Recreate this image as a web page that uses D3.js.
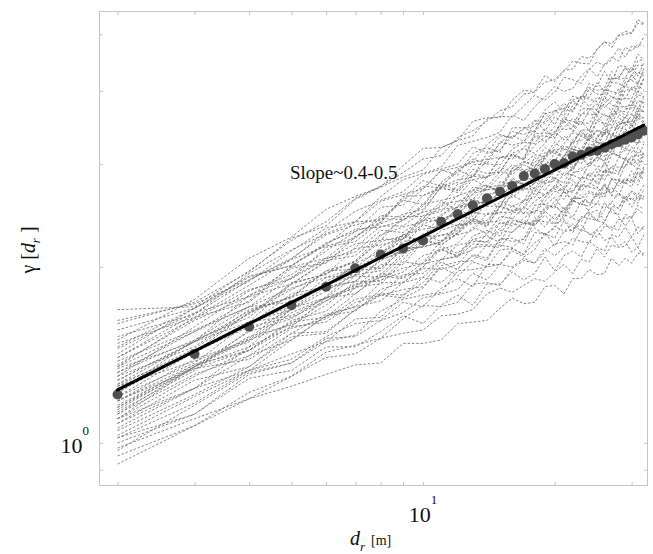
<!DOCTYPE html>
<html>
<head>
<meta charset="utf-8">
<script src="https://cdn.jsdelivr.net/npm/d3@7"></script>
<style>
  body { margin: 0; background: #fff; }
  svg { display: block; }
  text { font-family: "Liberation Serif", "Times New Roman", serif; fill: #111; }
</style>
</head>
<body>
<svg id="chart" width="653" height="554"></svg>
<script>
// Lag distances (m) at which every variogram is evaluated
const lags = [2,3,4,5,6,7,8,9,10,11,12,13,14,15,16,17,18,19,20,21,22,23,24,25,26,27,28,29,30,31,32];

// Mean variogram over all runs
const meanGamma = [1.21,1.42,1.58,1.72,1.85,1.99,2.10,2.15,2.22,2.39,2.46,2.55,2.62,2.69,2.75,2.86,2.89,2.94,3.00,3.01,3.09,3.11,3.15,3.16,3.20,3.24,3.27,3.30,3.33,3.37,3.42];

// Power-law fit, end points (lag, gamma)
const fitLags = [2, 32];
const fitGamma = [1.232, 3.497];

// Individual variograms (one row per run, values at `lags`)
const runs = [
  [1.69,1.71,1.97,2.22,2.39,2.62,2.75,2.90,3.06,3.10,3.33,3.42,3.55,3.70,3.76,3.95,3.98,4.14,4.18,4.34,4.36,4.58,4.55,4.70,4.85,4.82,4.98,5.06,5.02,5.22,5.20],
  [1.50,1.76,2.07,2.25,2.51,2.64,2.74,2.98,3.19,3.20,3.29,3.55,3.60,3.60,3.86,4.01,3.99,4.25,4.15,4.32,4.50,4.46,4.45,4.72,4.86,4.74,4.97,5.00,5.02,5.30,5.22],
  [1.60,1.74,1.96,2.24,2.35,2.61,2.74,2.85,2.93,3.20,3.29,3.35,3.58,3.62,3.61,3.77,3.93,3.86,3.98,4.22,4.18,4.12,4.36,4.48,4.42,4.53,4.74,4.57,4.77,4.74,4.95],
  [1.40,1.66,1.95,2.14,2.28,2.39,2.64,2.82,2.89,2.96,3.23,3.28,3.33,3.40,3.64,3.56,3.76,3.90,4.07,3.99,4.04,4.24,4.37,4.23,4.44,4.57,4.50,4.75,4.68,4.81,4.77],
  [1.62,1.73,1.90,2.06,2.30,2.49,2.60,2.69,2.88,2.94,3.00,3.21,3.14,3.35,3.33,3.46,3.40,3.56,3.70,3.73,3.68,3.92,3.87,3.84,4.02,3.99,3.96,4.21,4.18,4.31,4.24],
  [1.46,1.70,1.89,2.13,2.33,2.39,2.59,2.66,2.72,2.92,2.96,3.03,3.24,3.37,3.32,3.44,3.56,3.52,3.67,3.81,3.70,3.92,3.90,4.13,3.99,4.21,4.19,4.21,4.40,4.24,4.47],
  [1.30,1.58,1.82,1.94,2.13,2.30,2.38,2.64,2.65,2.74,2.94,3.02,3.06,3.25,3.41,3.37,3.42,3.65,3.70,3.63,3.86,3.90,4.06,4.01,4.04,4.32,4.22,4.37,4.31,4.50,4.53],
  [1.52,1.66,1.90,2.07,2.27,2.36,2.42,2.60,2.75,2.73,2.79,2.99,3.00,2.99,3.18,3.27,3.25,3.44,3.33,3.46,3.59,3.53,3.52,3.72,3.80,3.70,3.87,3.88,3.88,4.09,4.01],
  [1.36,1.62,1.78,2.00,2.07,2.26,2.37,2.46,2.51,2.74,2.82,2.85,3.05,3.08,3.06,3.20,3.34,3.28,3.39,3.58,3.55,3.50,3.71,3.80,3.75,3.85,4.03,3.88,4.06,4.03,4.20],
  [1.20,1.43,1.67,1.83,1.95,2.05,2.26,2.41,2.48,2.53,2.77,2.82,2.85,2.91,3.12,3.05,3.23,3.33,3.48,3.43,3.46,3.64,3.74,3.63,3.81,3.91,3.85,4.08,4.02,4.12,4.10],
  [1.56,1.70,1.92,2.01,2.19,2.32,2.34,2.40,2.56,2.60,2.64,2.82,2.74,2.91,2.88,2.99,2.93,3.07,3.17,3.19,3.14,3.35,3.29,3.26,3.40,3.38,3.34,3.55,3.51,3.62,3.54],
  [1.28,1.49,1.66,1.87,2.05,2.09,2.27,2.34,2.39,2.56,2.59,2.66,2.85,2.96,2.91,3.01,3.11,3.09,3.22,3.35,3.24,3.43,3.43,3.62,3.50,3.69,3.68,3.69,3.86,3.72,3.92],
  [1.40,1.63,1.83,1.91,2.06,2.19,2.22,2.44,2.44,2.49,2.65,2.70,2.71,2.86,2.99,2.93,2.96,3.14,3.16,3.09,3.27,3.29,3.41,3.36,3.37,3.58,3.49,3.61,3.54,3.69,3.69],
  [1.13,1.33,1.56,1.69,1.89,1.99,2.07,2.24,2.40,2.41,2.48,2.67,2.71,2.72,2.91,3.02,3.01,3.20,3.12,3.25,3.39,3.36,3.36,3.56,3.65,3.58,3.75,3.76,3.78,4.00,3.93],
  [1.22,1.44,1.59,1.80,1.85,2.03,2.12,2.21,2.25,2.46,2.53,2.55,2.74,2.76,2.74,2.87,3.00,2.94,3.03,3.22,3.18,3.14,3.33,3.42,3.37,3.46,3.62,3.49,3.64,3.61,3.77],
  [1.32,1.50,1.71,1.84,1.92,1.99,2.16,2.27,2.32,2.35,2.54,2.57,2.58,2.62,2.78,2.71,2.85,2.93,3.05,2.98,3.00,3.13,3.21,3.09,3.24,3.31,3.25,3.44,3.38,3.45,3.41],
  [1.45,1.67,1.78,1.87,2.04,2.15,2.18,2.23,2.37,2.42,2.46,2.62,2.55,2.70,2.68,2.79,2.72,2.85,2.95,2.97,2.92,3.11,3.06,3.03,3.16,3.14,3.10,3.29,3.27,3.37,3.30],
  [1.16,1.35,1.50,1.69,1.85,1.89,2.06,2.12,2.17,2.31,2.36,2.40,2.58,2.68,2.63,2.73,2.82,2.79,2.91,3.03,2.94,3.11,3.10,3.29,3.18,3.36,3.33,3.35,3.50,3.37,3.56],
  [1.24,1.44,1.61,1.69,1.82,1.94,1.97,2.16,2.16,2.21,2.34,2.39,2.40,2.54,2.65,2.59,2.63,2.78,2.81,2.74,2.90,2.92,3.02,2.97,2.98,3.17,3.09,3.19,3.14,3.27,3.27],
  [1.06,1.24,1.46,1.58,1.77,1.86,1.94,2.11,2.26,2.26,2.32,2.51,2.54,2.54,2.73,2.84,2.82,3.01,2.93,3.05,3.18,3.15,3.14,3.33,3.43,3.35,3.51,3.53,3.54,3.75,3.69],
  [1.10,1.30,1.44,1.62,1.68,1.84,1.92,1.99,2.03,2.22,2.27,2.31,2.47,2.48,2.48,2.59,2.70,2.66,2.73,2.90,2.87,2.83,3.00,3.08,3.04,3.12,3.25,3.15,3.28,3.26,3.40],
  [1.34,1.49,1.68,1.78,1.84,1.89,2.05,2.14,2.17,2.20,2.36,2.37,2.38,2.40,2.55,2.47,2.59,2.66,2.75,2.68,2.70,2.82,2.88,2.77,2.89,2.96,2.90,3.05,2.99,3.05,3.02],
  [1.18,1.39,1.50,1.60,1.75,1.87,1.90,1.96,2.09,2.14,2.19,2.34,2.28,2.44,2.42,2.53,2.47,2.59,2.69,2.72,2.68,2.85,2.82,2.80,2.93,2.90,2.88,3.07,3.04,3.14,3.08],
  [1.03,1.20,1.33,1.50,1.65,1.68,1.83,1.88,1.92,2.06,2.09,2.14,2.28,2.38,2.35,2.42,2.50,2.48,2.59,2.69,2.61,2.77,2.75,2.91,2.81,2.98,2.96,2.97,3.10,2.99,3.15],
  [1.26,1.43,1.58,1.64,1.75,1.85,1.87,2.04,2.02,2.06,2.18,2.21,2.21,2.33,2.42,2.37,2.39,2.53,2.54,2.47,2.62,2.62,2.70,2.66,2.67,2.83,2.75,2.84,2.78,2.90,2.89],
  [1.10,1.24,1.41,1.50,1.65,1.71,1.75,1.88,1.99,1.98,2.02,2.16,2.17,2.16,2.30,2.38,2.35,2.49,2.41,2.51,2.60,2.56,2.54,2.69,2.75,2.68,2.80,2.81,2.81,2.96,2.90],
  [1.18,1.34,1.44,1.58,1.61,1.74,1.79,1.83,1.85,2.01,2.04,2.05,2.18,2.18,2.16,2.24,2.33,2.27,2.33,2.46,2.42,2.39,2.51,2.57,2.52,2.58,2.68,2.58,2.69,2.66,2.76],
  [1.02,1.17,1.33,1.42,1.49,1.53,1.68,1.76,1.79,1.81,1.97,1.98,2.00,2.02,2.15,2.10,2.20,2.26,2.35,2.30,2.31,2.42,2.48,2.40,2.50,2.57,2.52,2.65,2.60,2.66,2.64],
  [1.08,1.24,1.33,1.39,1.52,1.60,1.62,1.67,1.77,1.80,1.83,1.95,1.90,2.02,2.00,2.07,2.03,2.12,2.19,2.21,2.18,2.32,2.28,2.25,2.35,2.34,2.31,2.46,2.43,2.51,2.46],
  [0.98,1.10,1.19,1.30,1.40,1.42,1.51,1.54,1.56,1.65,1.66,1.69,1.80,1.84,1.81,1.86,1.91,1.89,1.96,2.02,1.95,2.06,2.04,2.15,2.08,2.18,2.16,2.17,2.25,2.16,2.27],
  [0.92,1.07,1.19,1.25,1.31,1.36,1.37,1.48,1.48,1.50,1.60,1.61,1.62,1.70,1.77,1.73,1.74,1.85,1.86,1.80,1.91,1.91,1.98,1.94,1.95,2.07,2.01,2.07,2.03,2.11,2.11],
  [1.25,1.45,1.67,1.78,1.97,2.04,2.21,2.26,2.41,2.44,2.59,2.61,2.75,2.70,2.82,2.76,2.84,2.77,2.85,2.72,2.82,2.70,2.78,2.74,2.66,2.73,2.68,2.62,2.70,2.61,2.64],
  [1.12,1.31,1.41,1.57,1.63,1.76,1.80,1.94,1.95,2.06,2.08,2.19,2.18,2.31,2.29,2.40,2.36,2.45,2.37,2.41,2.33,2.36,2.27,2.31,2.22,2.25,2.17,2.21,2.12,2.16,2.08],
  [0.95,1.07,1.22,1.30,1.43,1.47,1.51,1.63,1.72,1.71,1.74,1.87,1.88,1.86,1.99,2.05,2.03,2.15,2.09,2.16,2.24,2.21,2.20,2.32,2.38,2.31,2.41,2.42,2.43,2.55,2.51],
  [1.35,1.64,1.74,1.99,2.03,2.25,2.42,2.41,2.54,2.78,2.70,2.89,2.85,3.08,3.10,3.05,3.35,3.35,3.32,3.56,3.41,3.66,3.65,3.64,3.92,3.78,3.76,4.01,4.03,3.96,4.21],
  [1.28,1.49,1.79,1.91,2.16,2.21,2.39,2.60,2.56,2.79,2.93,2.85,3.13,3.17,3.36,3.28,3.41,3.67,3.50,3.73,3.85,3.76,4.04,3.95,3.94,4.21,4.20,4.39,4.24,4.43,4.42],
  [1.22,1.44,1.61,1.65,1.77,1.93,1.92,2.09,2.23,2.18,2.28,2.40,2.34,2.54,2.50,2.53,2.74,2.63,2.76,2.70,2.88,2.96,2.85,2.95,2.90,3.12,3.10,3.05,3.21,3.08,3.25],
  [1.18,1.36,1.51,1.72,1.87,1.93,2.11,2.11,2.25,2.40,2.35,2.55,2.60,2.53,2.79,2.78,2.78,2.96,3.05,2.93,3.11,3.08,3.25,3.21,3.39,3.24,3.46,3.44,3.38,3.60,3.51],
  [1.15,1.36,1.44,1.61,1.64,1.80,1.93,1.91,2.00,2.17,2.11,2.23,2.20,2.38,2.38,2.33,2.55,2.56,2.52,2.70,2.58,2.75,2.74,2.72,2.93,2.83,2.81,2.99,3.00,2.94,3.12],
  [1.30,1.46,1.69,1.77,1.97,1.98,2.11,2.27,2.21,2.38,2.48,2.40,2.62,2.63,2.77,2.70,2.78,2.97,2.82,2.99,3.07,3.00,3.19,3.12,3.09,3.29,3.27,3.42,3.28,3.42,3.40],
  [1.12,1.35,1.52,1.59,1.72,1.89,1.89,2.06,2.22,2.18,2.29,2.42,2.37,2.59,2.54,2.59,2.81,2.70,2.84,2.78,2.98,3.07,2.97,3.08,3.03,3.27,3.25,3.19,3.38,3.25,3.42],
  [1.25,1.38,1.49,1.67,1.77,1.80,1.95,1.92,2.03,2.15,2.08,2.23,2.26,2.20,2.40,2.38,2.37,2.51,2.56,2.45,2.60,2.55,2.68,2.64,2.78,2.65,2.82,2.79,2.74,2.91,2.81],
  [1.08,1.28,1.35,1.52,1.54,1.69,1.80,1.79,1.88,2.04,1.98,2.10,2.07,2.23,2.24,2.19,2.40,2.39,2.37,2.53,2.43,2.59,2.58,2.56,2.76,2.65,2.64,2.81,2.82,2.76,2.94],
  [1.20,1.37,1.61,1.71,1.92,1.94,2.09,2.26,2.21,2.39,2.51,2.44,2.66,2.69,2.84,2.76,2.86,3.07,2.92,3.10,3.19,3.13,3.34,3.27,3.25,3.47,3.45,3.61,3.47,3.63,3.60],
  [1.42,1.70,1.93,2.01,2.18,2.39,2.40,2.62,2.81,2.75,2.91,3.06,3.00,3.28,3.23,3.27,3.56,3.42,3.61,3.53,3.78,3.88,3.76,3.90,3.84,4.14,4.12,4.06,4.27,4.12,4.34],
  [1.05,1.21,1.35,1.54,1.66,1.71,1.88,1.88,2.00,2.14,2.09,2.26,2.31,2.26,2.48,2.47,2.48,2.63,2.72,2.61,2.77,2.73,2.90,2.85,3.02,2.88,3.08,3.06,3.01,3.20,3.12],
  [1.15,1.34,1.39,1.54,1.55,1.69,1.79,1.77,1.84,2.00,1.93,2.04,2.00,2.14,2.15,2.10,2.29,2.28,2.24,2.40,2.29,2.44,2.42,2.40,2.58,2.48,2.46,2.61,2.62,2.57,2.72],
  [1.00,1.12,1.31,1.37,1.51,1.52,1.62,1.74,1.71,1.84,1.91,1.85,2.02,2.02,2.13,2.08,2.14,2.29,2.17,2.30,2.37,2.30,2.46,2.40,2.38,2.54,2.52,2.63,2.53,2.64,2.61],
  [1.38,1.56,1.71,1.92,2.07,2.12,2.31,2.29,2.42,2.59,2.50,2.71,2.76,2.68,2.95,2.92,2.92,3.09,3.18,3.05,3.22,3.18,3.36,3.31,3.49,3.33,3.54,3.52,3.45,3.67,3.57],
  [1.10,1.35,1.55,1.63,1.78,1.97,1.99,2.18,2.36,2.32,2.46,2.60,2.56,2.80,2.77,2.82,3.08,2.97,3.13,3.07,3.30,3.40,3.29,3.43,3.39,3.66,3.65,3.59,3.79,3.67,3.87],
  [1.26,1.49,1.61,1.87,1.95,2.04,2.23,2.23,2.45,2.51,2.53,2.74,2.71,2.74,2.95,3.03,2.97,3.10,3.27,3.17,3.26,3.42,3.30,3.56,3.52,3.50,3.73,3.63,3.65,3.85,3.82],
  [1.48,1.64,1.86,2.06,2.17,2.24,2.45,2.43,2.65,2.72,2.71,2.94,2.89,2.91,3.13,3.19,3.13,3.25,3.41,3.30,3.40,3.55,3.42,3.69,3.63,3.61,3.84,3.73,3.74,3.94,3.91],
  [0.97,1.16,1.32,1.37,1.49,1.63,1.64,1.79,1.92,1.88,1.99,2.09,2.05,2.24,2.21,2.23,2.43,2.34,2.46,2.42,2.58,2.66,2.57,2.66,2.63,2.83,2.82,2.77,2.92,2.81,2.97],
  [1.32,1.55,1.75,2.01,2.20,2.30,2.53,2.55,2.72,2.93,2.87,3.13,3.20,3.14,3.46,3.46,3.48,3.71,3.83,3.69,3.92,3.88,4.12,4.07,4.32,4.13,4.42,4.40,4.33,4.62,4.51],
  [1.22,1.50,1.64,1.88,1.94,2.16,2.35,2.35,2.49,2.74,2.68,2.86,2.84,3.08,3.11,3.07,3.38,3.39,3.37,3.62,3.48,3.73,3.73,3.72,4.02,3.90,3.88,4.14,4.17,4.11,4.38],
  [1.02,1.12,1.29,1.33,1.46,1.46,1.55,1.65,1.60,1.72,1.79,1.72,1.87,1.87,1.96,1.90,1.95,2.08,1.97,2.09,2.13,2.08,2.21,2.16,2.13,2.27,2.25,2.34,2.25,2.34,2.32],
  [1.14,1.35,1.46,1.70,1.77,1.84,2.02,2.02,2.21,2.27,2.28,2.48,2.46,2.47,2.67,2.73,2.70,2.81,2.95,2.86,2.95,3.09,2.99,3.22,3.18,3.17,3.38,3.29,3.30,3.48,3.46],
  [1.35,1.55,1.71,1.74,1.86,2.01,1.99,2.14,2.28,2.21,2.31,2.42,2.35,2.54,2.49,2.51,2.68,2.55,2.63,2.50,2.62,2.62,2.47,2.50,2.40,2.52,2.44,2.35,2.43,2.28,2.35]
];

// Labelled decades
const xDecades = [10];
const xDecadeExp = ["1"];
const yDecades = [1];
const yDecadeExp = ["0"];

const svg = d3.select("#chart");
const W = 653, H = 554;
const frame = { left: 99, right: 648, top: 11, bottom: 486 };

const x = d3.scaleLog().domain([1.814, 32.7]).range([frame.left, frame.right]);
const y = d3.scaleLog().domain([0.844, 5.48]).range([frame.bottom, frame.top]);

svg.append("rect").attr("width", W).attr("height", H).attr("fill", "#fff");

svg.append("clipPath").attr("id", "plotClip")
  .append("rect")
  .attr("x", frame.left).attr("y", frame.top)
  .attr("width", frame.right - frame.left).attr("height", frame.bottom - frame.top);

const plot = svg.append("g").attr("clip-path", "url(#plotClip)");

// Individual variograms: thin dashed grey
const line = d3.line()
  .x(d => x(d[0]))
  .y(d => y(d[1]));

plot.append("g")
  .selectAll("path")
  .data(runs)
  .join("path")
  .attr("d", r => line(lags.map((l, i) => [l, r[i]])))
  .attr("fill", "none")
  .attr("stroke", "#6a6a6a")
  .attr("stroke-width", 0.8)
  .attr("stroke-dasharray", "2.5,1.8");

// Mean variogram dots
plot.append("g")
  .selectAll("circle")
  .data(lags.map((l, i) => [l, meanGamma[i]]))
  .join("circle")
  .attr("cx", d => x(d[0]))
  .attr("cy", d => y(d[1]))
  .attr("r", 5)
  .attr("fill", "#505050");

// Fitted power law
plot.append("path")
  .attr("d", line(fitLags.map((l, i) => [l, fitGamma[i]])))
  .attr("fill", "none")
  .attr("stroke", "#000")
  .attr("stroke-width", 3)
  .attr("stroke-linecap", "round");

// Frame and inward ticks on all four sides
const axisColor = "#c4c4c4";
svg.append("rect")
  .attr("x", frame.left + 0.5).attr("y", frame.top + 0.5)
  .attr("width", frame.right - frame.left - 1).attr("height", frame.bottom - frame.top - 1)
  .attr("fill", "none").attr("stroke", axisColor).attr("stroke-width", 1);

function styleAxis(g) {
  g.select(".domain").remove();
  g.selectAll(".tick line").attr("stroke", axisColor);
  g.selectAll(".tick text").remove();
}
const xt = x.ticks(), yt = y.ticks();
svg.append("g").attr("transform", `translate(0,${frame.bottom})`)
  .call(d3.axisBottom(x).tickValues(xt).tickSize(-4).tickFormat(() => "")).call(styleAxis);
svg.append("g").attr("transform", `translate(0,${frame.top})`)
  .call(d3.axisTop(x).tickValues(xt).tickSize(-4).tickFormat(() => "")).call(styleAxis);
svg.append("g").attr("transform", `translate(${frame.left},0)`)
  .call(d3.axisLeft(y).tickValues(yt).tickSize(-4).tickFormat(() => "")).call(styleAxis);
svg.append("g").attr("transform", `translate(${frame.right},0)`)
  .call(d3.axisRight(y).tickValues(yt).tickSize(-4).tickFormat(() => "")).call(styleAxis);

// Decade labels
xDecades.forEach((v, i) => {
  const t = svg.append("text")
    .attr("x", x(v)).attr("y", 522)
    .attr("text-anchor", "middle")
    .style("font-size", "22px");
  t.append("tspan").text("10");
  t.append("tspan").attr("dy", -18).style("font-size", "13px").text(xDecadeExp[i]);
});
yDecades.forEach((v, i) => {
  const t = svg.append("text")
    .attr("x", 89).attr("y", y(v) + 10)
    .attr("text-anchor", "end")
    .style("font-size", "22px");
  t.append("tspan").text("10");
  t.append("tspan").attr("dy", -18).style("font-size", "13px").text(yDecadeExp[i]);
});

// Axis titles
const xTitle = svg.append("text").attr("x", 350).attr("y", 545).style("font-size", "20px");
xTitle.append("tspan").style("font-style", "italic").text("d");
xTitle.append("tspan").attr("dy", 6).style("font-style", "italic").style("font-size", "13px").text("r");
xTitle.append("tspan").attr("dx", 6).attr("dy", -6).style("font-size", "14px").text("[m]");

const yTitle = svg.append("text")
  .attr("transform", "translate(35,250) rotate(-90)")
  .attr("text-anchor", "middle")
  .style("font-size", "20px");
yTitle.append("tspan").text("γ [");
yTitle.append("tspan").style("font-style", "italic").text("d");
yTitle.append("tspan").attr("dy", 5).style("font-style", "italic").style("font-size", "13px").text("r");
yTitle.append("tspan").attr("dy", -5).text(" ]");

// Annotation
svg.append("text")
  .attr("x", 290).attr("y", 179)
  .style("font-size", "19px")
  .text("Slope~0.4-0.5");
</script>
</body>
</html>
